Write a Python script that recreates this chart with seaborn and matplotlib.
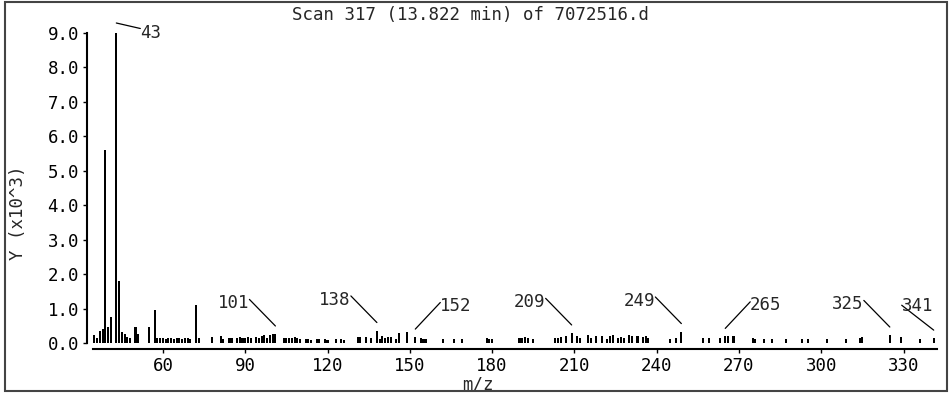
import matplotlib
matplotlib.use("Agg")
import matplotlib.pyplot as plt
import matplotlib.transforms as mtransforms
from matplotlib.patches import Rectangle
import pandas as pd
import seaborn as sns

# peak list: m/z and abundance (x10^3)
mz = [
    35, 36, 37, 38, 39, 40, 41, 43, 44, 45, 46, 47, 48, 50, 51, 55, 57, 58,
    59, 60, 61, 62, 63, 64, 65, 66, 67, 68, 69, 70, 72, 73, 78, 81, 82, 84,
    85, 87, 88, 89, 90, 91, 92, 94, 95, 96, 97, 98, 99, 100, 101, 104, 105,
    106, 107, 108, 109, 110, 112, 113, 114, 116, 117, 119, 120, 123, 125,
    126, 131, 132, 134, 136, 138, 139, 140, 141, 142, 143, 145, 146, 149,
    152, 154, 155, 156, 162, 166, 169, 178, 179, 180, 190, 191, 192, 193,
    195, 203, 204, 205, 207, 209, 211, 212, 215, 216, 218, 220, 222, 223,
    224, 226, 227, 228, 230, 231, 233, 235, 236, 237, 245, 247, 249, 257,
    259, 263, 265, 266, 268, 275, 276, 279, 282, 287, 293, 295, 302, 309,
    314, 315, 325, 329, 336, 341,
]
abundance = [
    0.24, 0.15, 0.36, 0.42, 5.60, 0.48, 0.75, 9.00, 1.80, 0.34, 0.28, 0.18,
    0.15, 0.46, 0.27, 0.47, 0.97, 0.16, 0.14, 0.14, 0.13, 0.14, 0.14, 0.13,
    0.15, 0.14, 0.13, 0.15, 0.16, 0.12, 1.12, 0.14, 0.17, 0.20, 0.13, 0.15,
    0.16, 0.14, 0.17, 0.15, 0.16, 0.17, 0.14, 0.17, 0.14, 0.22, 0.24, 0.16,
    0.25, 0.26, 0.27, 0.14, 0.16, 0.15, 0.15, 0.18, 0.14, 0.12, 0.12, 0.13,
    0.11, 0.13, 0.12, 0.12, 0.11, 0.12, 0.12, 0.11, 0.17, 0.18, 0.17, 0.14,
    0.37, 0.13, 0.20, 0.15, 0.18, 0.19, 0.13, 0.29, 0.33, 0.18, 0.15, 0.12,
    0.13, 0.12, 0.12, 0.12, 0.14, 0.13, 0.12, 0.14, 0.15, 0.17, 0.14, 0.13,
    0.14, 0.15, 0.17, 0.22, 0.30, 0.20, 0.16, 0.24, 0.15, 0.22, 0.21, 0.13,
    0.20, 0.24, 0.14, 0.17, 0.15, 0.24, 0.21, 0.22, 0.17, 0.20, 0.16, 0.12,
    0.15, 0.34, 0.14, 0.15, 0.14, 0.20, 0.20, 0.22, 0.15, 0.12, 0.12, 0.12,
    0.12, 0.12, 0.13, 0.12, 0.13, 0.14, 0.17, 0.24, 0.18, 0.12, 0.15,
]

# labelled peaks and which side the label sits on
label_mz = [43, 101, 138, 152, 209, 249, 265, 325, 341]
label_side = ["top", "left", "left", "right", "left", "left", "right", "left", "over"]

x_ticks = [60, 90, 120, 150, 180, 210, 240, 270, 300, 330]
y_ticks = [0, 1, 2, 3, 4, 5, 6, 7, 8, 9]

title = "Scan 317 (13.822 min) of 7072516.d"

sns.set_style("ticks")
plt.rcParams["font.family"] = ["DejaVu Sans Mono"]
plt.rcParams["font.size"] = 12.5

fig = plt.figure(figsize=(9.5, 3.96), dpi=100)
ax = fig.add_axes([93 / 950, 1 - 343.3 / 396, 844 / 950, 310.3 / 396])

df = pd.DataFrame({"mz": mz, "abundance": abundance})

sns.barplot(
    data=df,
    x="mz",
    y="abundance",
    native_scale=True,
    color="black",
    saturation=1,
    width=0.75,
    linewidth=0,
    errorbar=None,
    ax=ax
)

for p in ax.patches:
    p.set_clip_on(False)

ax.set_xlim(34.5, 342.2)
ax.set_ylim(0, 9.0)

sns.despine(ax=ax, offset=4)
ax.spines["left"].set_linewidth(1.5)
ax.spines["bottom"].set_linewidth(1.5)
ax.spines["left"].set_color("black")
ax.spines["bottom"].set_color("black")

ax.set_xticks(x_ticks)
ax.set_xticklabels([str(t) for t in x_ticks])
ax.set_yticks(y_ticks)
ax.set_yticklabels([f"{t:.1f}" for t in y_ticks])
ax.tick_params(length=3, width=1, pad=3, colors="black", labelsize=12.5)

ax.set_xlabel("m/z")
ax.xaxis.set_label_coords(0.456, -0.105)
ax.set_ylabel("Y (x10^3)")
ax.yaxis.set_label_coords(-0.078, 0.42)

# leader lines for the labelled peaks
for m, side in zip(label_mz, label_side):
    h = abundance[mz.index(m)]
    if side == "top":
        lift, dxy, ha, rel = 10, (24, -10), "left", (0, 0.75)
    elif side == "left":
        lift, dxy, ha, rel = 8, (-26, 23), "right", (1, 0.7)
    elif side == "right":
        lift, dxy, ha, rel = 8, (25, 23), "left", (0, 0.7)
    else:
        lift, dxy, ha, rel = 8, (-32, 24), "left", (0, 0.55)
    trans = mtransforms.offset_copy(ax.transData, fig=fig, x=0, y=lift, units="dots")
    ax.annotate(
        str(m),
        xy=(m, h),
        xycoords=trans,
        xytext=dxy,
        textcoords="offset pixels",
        ha=ha,
        va="center",
        fontsize=12.5,
        annotation_clip=False,
        arrowprops=dict(
            arrowstyle="-",
            color="black",
            lw=0.9,
            shrinkA=0,
            shrinkB=0,
            patchA=None,
            relpos=rel
        )
    )

fig.text(470 / 950, 1 - 15 / 396, title, ha="center", va="center", fontsize=12.5)

fig.patches.append(
    Rectangle(
        (5 / 950, 1 - 391 / 396),
        942 / 950,
        389 / 396,
        transform=fig.transFigure,
        fill=False,
        lw=1.5,
        ec="#444444"
    )
)

fig.savefig("out.png", dpi=100)
